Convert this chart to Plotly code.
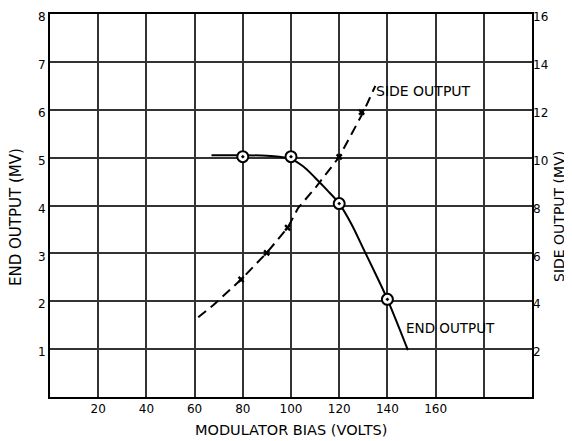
import plotly.graph_objects as go

# End output curve (left axis, MV)
end_curve_x = [67, 80, 90, 95, 100, 105, 110, 115, 120, 125, 130, 135, 140, 148.5]
end_curve_y = [5.05, 5.05, 5.04, 5.02, 4.97, 4.82, 4.58, 4.32, 4.04, 3.62, 3.1, 2.58, 2.04, 0.98]
end_pts_x = [80, 100, 120, 140]
end_pts_y = [5.02, 5.02, 4.04, 2.04]

# Side output curve (right axis, MV)
side_curve_x = [61.5, 67.8, 79.3, 89.9, 98.6, 100.3, 103, 110.6, 120, 130, 135]
side_curve_y = [3.33, 3.84, 4.91, 6.02, 7.07, 7.4, 7.9, 8.8, 10.03, 11.9, 13.0]
side_pts_x = [79.3, 89.9, 98.6, 120, 129.3]
side_pts_y = [4.91, 6.02, 7.07, 10.03, 11.9]

x_ticks = [20, 40, 60, 80, 100, 120, 140, 160, 180]
x_labels = ["20", "40", "60", "80", "100", "120", "140", "160", ""]
y_ticks = [1, 2, 3, 4, 5, 6, 7, 8]
y2_ticks = [2, 4, 6, 8, 10, 12, 14, 16]

FONT = "DejaVu Sans"

fig = go.Figure()
fig.add_trace(go.Scatter(x=end_curve_x, y=end_curve_y, mode="lines",
                         line=dict(color="black", width=2, shape="spline", smoothing=1.0),
                         showlegend=False, hoverinfo="skip"))
fig.add_trace(go.Scatter(x=end_pts_x, y=end_pts_y, mode="markers",
                         marker=dict(symbol="circle-dot", size=11, color="white",
                                     line=dict(color="black", width=2)),
                         showlegend=False))
fig.add_trace(go.Scatter(x=side_curve_x, y=side_curve_y, mode="lines", yaxis="y2",
                         line=dict(color="black", width=2, dash="10px,6px"),
                         showlegend=False, hoverinfo="skip"))
fig.add_trace(go.Scatter(x=side_pts_x, y=side_pts_y, mode="markers", yaxis="y2",
                         marker=dict(symbol="x", size=6, color="black"),
                         showlegend=False))

fig.add_annotation(x=134.4, y=12.78, yref="y2", text="SIDE OUTPUT", showarrow=False,
                   xanchor="left", yanchor="middle",
                   font=dict(family=FONT, size=14, color="black"))
fig.add_annotation(x=146.7, y=1.44, text="END OUTPUT", showarrow=False,
                   xanchor="left", yanchor="middle",
                   font=dict(family=FONT, size=13.5, color="black"))
fig.add_annotation(x=0, y=0.47, xref="paper", yref="paper", xshift=-34,
                   text="END OUTPUT (MV)", textangle=-90, showarrow=False,
                   xanchor="center", yanchor="middle",
                   font=dict(family=FONT, size=15, color="black"))
fig.add_annotation(x=1.0, y=0.47, xref="paper", yref="paper", xshift=27,
                   text="SIDE OUTPUT (MV)", textangle=-90, showarrow=False,
                   xanchor="center", yanchor="middle",
                   font=dict(family=FONT, size=14, color="black"))
fig.add_annotation(x=0.5, y=0, xref="paper", yref="paper", yshift=-33,
                   text="MODULATOR BIAS (VOLTS)", showarrow=False,
                   xanchor="center", yanchor="middle",
                   font=dict(family=FONT, size=14.5, color="black"))

grid = dict(showgrid=True, gridcolor="#333333", gridwidth=1.5)
fig.update_layout(
    width=564, height=433,
    margin=dict(l=42, r=40, t=6, b=44, autoexpand=False),
    paper_bgcolor="white", plot_bgcolor="white",
    font=dict(family=FONT, size=12, color="black"),
    xaxis=dict(range=[0, 200], tickvals=x_ticks, ticktext=x_labels, automargin=False,
               showline=True, linecolor="black", linewidth=2, mirror=True,
               zeroline=False, ticks="", ticklabeloverflow="allow", **grid),
    yaxis=dict(range=[0, 8], tickvals=y_ticks, showline=True, linecolor="black",
               linewidth=2, mirror=True, zeroline=False, ticks="", automargin=False,
               ticklabeloverflow="allow", ticklabelshift=3, **grid),
    yaxis2=dict(range=[0, 16], tickvals=y2_ticks, overlaying="y", side="right",
                showgrid=False, zeroline=False, ticks="", showline=False,
                automargin=False, ticklabeloverflow="allow", ticklabelshift=3),
)

fig.write_html("out.html")
